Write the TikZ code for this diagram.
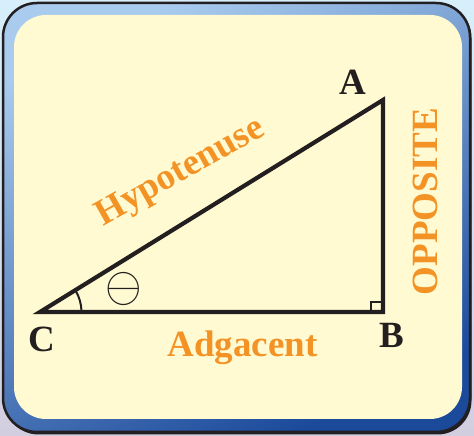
\documentclass[tikz,border=0pt]{standalone}
\usepackage{fontspec}
\usepackage{graphicx}
\setmainfont{Liberation Serif}
\usetikzlibrary{positioning,calc}
\definecolor{bgtop}{HTML}{D6EFFB}
\definecolor{bgbot}{HTML}{D2CEE0}
\definecolor{frtop}{HTML}{A9CBEE}
\definecolor{frbot}{HTML}{1B4A9B}
\definecolor{frline}{HTML}{231F20}
\definecolor{cream}{HTML}{FFFAD1}
\definecolor{ink}{HTML}{231F20}
\definecolor{orng}{HTML}{F39325}

\begin{document}
\begin{tikzpicture}[x=1pt,y=1pt,
  side/.style={draw=ink,line width=4.2pt,line join=miter},
  fine/.style={draw=ink,line width=2pt},
  vtx/.style={font=\fontsize{37}{37}\selectfont\bfseries,text=ink,
              inner sep=0pt,anchor=base},
  word/.style={font=\fontsize{37}{37}\selectfont\bfseries,text=orng,
               inner sep=0pt,anchor=base}]
\useasboundingbox (0,0) rectangle (474,436);
% background and frame
\fill[top color=bgtop,bottom color=bgbot] (0,0) rectangle (474,436);
\fill[frline,rounded corners=34pt] (4.5,1.5) rectangle (471.5,432);
\shade[top color=frtop,bottom color=frbot,shading angle=25,
       rounded corners=34pt,draw=frline,line width=2.5pt] (3,4) rectangle (470,433);
\fill[cream,rounded corners=32pt] (14,17) rectangle (462,421);
% triangle
\coordinate (C) at (40,124);
\coordinate (B) at (383,124);
\coordinate (A) at (383,336);
\draw[side] (C) -- (B) -- (A) -- cycle;
\draw[fine] ($(B)+(-12,0)$) |- ($(B)+(0,10)$);
\draw[fine] ($(C)+(41.5,0)$) arc[start angle=0,end angle=31.7,radius=41.5];
% labels
\node[vtx] (la) at (353,341) {A};
\node[vtx] (lb) at (391.5,88) {B};
\node[vtx] (lc) at (41.5,84) {C};
\node[word] (hyp) at (185,256) [rotate=29.5] {Hypotenuse};
\node[word] (opp) at (437,234.5) [rotate=90] {OPPOSITE};
\node[word] (adj) at (242.5,79) {Adgacent};
\node[text=ink,inner sep=0pt] (th) at (124,146.5) {\scalebox{4.7}[5.0]{$\ominus$}};
\end{tikzpicture}
\end{document}
